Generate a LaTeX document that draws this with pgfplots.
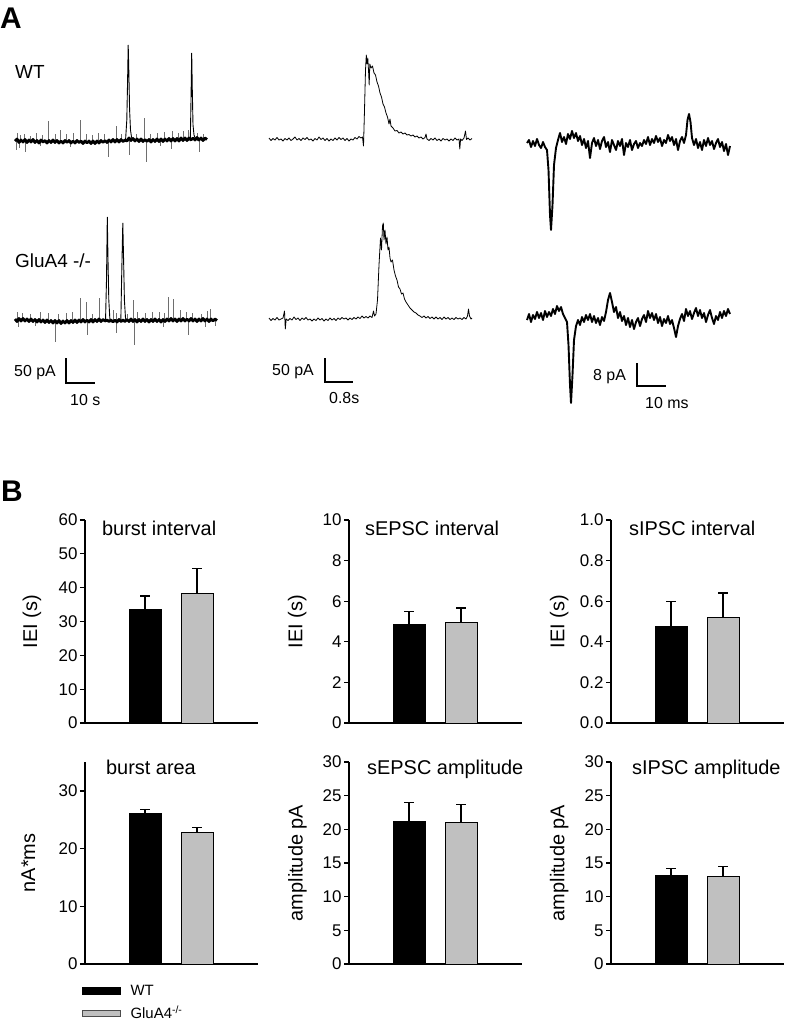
\documentclass[border=0pt]{standalone}
\usepackage{fontspec}
\setmainfont{Liberation Sans}
\usepackage{pgfplots}
\pgfplotsset{compat=1.18}
\definecolor{barGray}{RGB}{192,192,192}
\definecolor{spk}{RGB}{110,110,110}

\pgfplotsset{
  barax/.style={
    scale only axis, width=173bp,
    xmin=0, xmax=173, ymin=0,
    axis x line=bottom, axis y line=left,
    axis line style={-, line width=1.3bp, black},
    xtick=\empty,
    ytick pos=left, tick align=outside,
    major tick length=5bp,
    every tick/.style={black, line width=1.3bp},
    tick label style={font=\fontsize{17}{19}\selectfont},
    yticklabel style={xshift=1bp},
    /pgf/number format/assume math mode=true,
    ylabel style={font=\fontsize{20}{23}\selectfont, anchor=center},
    clip=false,
  },
  barcommon/.style={ybar, bar width=32, bar shift=0pt, line width=0.8bp,
    error bars/y dir=plus, error bars/y explicit,
    error bars/error bar style={line width=1.3bp, black},
    error bars/error mark options={rotate=90, mark size=5bp, line width=1.3bp, black}},
  wt/.style={fill=black, draw=black, barcommon},
  ko/.style={fill=barGray, draw=black, barcommon},
}
\tikzset{ttl/.style={anchor=base west, inner sep=0pt, font=\fontsize{20}{23}\selectfont}}

\begin{document}
\begin{tikzpicture}
\useasboundingbox (0,0) rectangle (785bp,-1026bp);

% ---------------- Panel A: traces (pixel coordinates, y downward) -------------
\begin{axis}[at={(0bp,-1026bp)}, anchor=south west, scale only axis,
  width=785bp, height=1026bp, xmin=0, xmax=785, ymin=0, ymax=1026,
  y dir=reverse, hide axis, clip=false, unbounded coords=jump]

% --- column 1, WT small events
\addplot[spk, line width=0.6bp] coordinates {
(17,141)(17,133)(nan,nan)(20,141)(20,135)(nan,nan)(24,141)(24,134)(nan,nan)(30,141)(30,136)(nan,nan)
(36,141)(36,133)(nan,nan)(42,141)(42,135)(nan,nan)(48,141)(48,121)(nan,nan)(55,141)(55,134)(nan,nan)
(60,141)(60,130)(nan,nan)(66,141)(66,134)(nan,nan)(73,141)(73,133)(nan,nan)(80,141)(80,120)(nan,nan)
(86,141)(86,134)(nan,nan)(92,141)(92,135)(nan,nan)(98,141)(98,133)(nan,nan)(104,141)(104,134)(nan,nan)
(116,141)(116,126)(nan,nan)(121,141)(121,134)(nan,nan)(136,141)(136,134)(nan,nan)(144,141)(144,118)(nan,nan)
(150,141)(150,134)(nan,nan)(157,141)(157,133)(nan,nan)(164,141)(164,132)(nan,nan)(172,141)(172,131)(nan,nan)
(178,141)(178,133)(nan,nan)(183,141)(183,131)(nan,nan)(188,141)(188,130)(nan,nan)(197,141)(197,133)(nan,nan)
(203,141)(203,134)(nan,nan)
(16,141)(16,150)(nan,nan)(19,141)(19,148)(nan,nan)(25,141)(25,152)(nan,nan)(40,141)(40,146)(nan,nan)
(70,141)(70,147)(nan,nan)(108,141)(108,157)(nan,nan)(129,141)(129,155)(nan,nan)(146,141)(146,162)(nan,nan)
(160,141)(160,146)(nan,nan)(171,141)(171,149)(nan,nan)(199,141)(199,152)};
% --- column 1, WT baseline
\addplot[black, line width=2.8bp, line join=round] coordinates {
(15,141)(17,139)(19,142.5)(21,140)(23,142)(25,139.5)(27,142.5)(29,140)(31,142)(33,139.5)
(35,142.5)(37,140.5)(39,143)(41,140)(43,142)(45,140.5)(47,143)(49,140.5)(51,142.5)(53,140)
(55,142.5)(57,140.5)(59,143)(61,141)(63,143)(65,140.5)(67,142.5)(69,140.5)(71,143)(73,141)
(75,143)(77,140.5)(79,142.5)(81,141)(83,143.5)(85,141)(87,143)(89,141)(91,143.5)(93,141)
(95,143.5)(97,141)(99,143)(101,140.5)(103,142.5)(105,140.5)(107,142.5)(109,140)(111,142)(113,139.5)
(115,142)(117,139.5)(119,142)(121,139.5)(123,141.5)(125,140)(127,141)(129,138)(131,140.5)(133,138.5)
(135,141)(137,139)(139,141.5)(141,139)(143,141.5)(145,139.5)(147,141.5)(149,139.5)(151,142)(153,139.5)
(155,141.5)(157,139)(159,141.5)(161,139)(163,141.5)(165,139)(167,141)(169,138.5)(171,141)(173,138.5)
(175,141)(177,138.5)(179,141)(181,138)(183,140.5)(185,138)(187,140.5)(189,138)(191,140)(193,138)
(195,140)(197,137.5)(199,140)(201,138)(203,140.5)(205,138)(207,139.5)};
% --- column 1, WT bursts
\addplot[black, line width=0.9bp] coordinates {
(125.5,141)(126.8,120)(127.6,80)(128.2,45)(128.8,70)(129.6,110)(130.5,130)(131.5,137)(133,140)
(nan,nan)
(190.3,141)(191,100)(191.7,53)(192.3,90)(193,125)(194,135)(195.5,139)};

% --- column 1, GluA4 small events
\addplot[spk, line width=0.6bp] coordinates {
(17,320)(17,312)(nan,nan)(22,320)(22,313)(nan,nan)(30,320)(30,314)(nan,nan)(40,320)(40,312)(nan,nan)
(48,320)(48,313)(nan,nan)(58,320)(58,314)(nan,nan)(66,320)(66,313)(nan,nan)(72,320)(72,312)(nan,nan)
(80,320)(80,298)(nan,nan)(86,320)(86,302)(nan,nan)(92,320)(92,314)(nan,nan)(99,320)(99,298)(nan,nan)
(113,320)(113,310)(nan,nan)(116,320)(116,313)(nan,nan)(127,320)(127,314)(nan,nan)(133,320)(133,300)(nan,nan)
(137,320)(137,312)(nan,nan)(145,320)(145,313)(nan,nan)(152,320)(152,312)(nan,nan)(159,320)(159,312)(nan,nan)
(164,320)(164,313)(nan,nan)(168,320)(168,297)(nan,nan)(173,320)(173,299)(nan,nan)(180,320)(180,310)(nan,nan)
(186,320)(186,312)(nan,nan)(192,320)(192,313)(nan,nan)(201,320)(201,314)(nan,nan)(207,320)(207,311)(nan,nan)
(210,320)(210,309)(nan,nan)
(18,320)(18,327)(nan,nan)(35,320)(35,326)(nan,nan)(55,320)(55,342)(nan,nan)(87,320)(87,335)(nan,nan)
(116,320)(116,333)(nan,nan)(134,320)(134,345)(nan,nan)(163,320)(163,327)(nan,nan)(188,320)(188,335)(nan,nan)
(205,320)(205,327)(nan,nan)(215,320)(215,326)};
% --- column 1, GluA4 baseline
\addplot[black, line width=2.8bp, line join=round] coordinates {
(15,319)(17,321.5)(19,318.5)(21,321)(23,318.5)(25,321)(27,319)(29,321.5)(31,319)(33,321.5)
(35,319.5)(37,322)(39,319.5)(41,322)(43,320)(45,322.5)(47,320)(49,322.5)(51,320.5)(53,323)
(55,320.5)(57,323)(59,320.5)(61,323.5)(63,321)(65,323)(67,320.5)(69,323)(71,320.5)(73,322.5)
(75,320)(77,322.5)(79,320)(81,322)(83,319.5)(85,322)(87,320)(89,322)(91,319.5)(93,322)
(95,319.5)(97,321.5)(99,319)(101,321.5)(103,319.5)(105,321)(107,320)(109,321.5)(111,320)(113,322)
(115,320)(117,322)(119,319.5)(121,321.5)(123,320)(125,321.5)(127,319.5)(129,321.5)(131,319)(133,321.5)
(135,319.5)(137,322)(139,319.5)(141,321.5)(143,319)(145,321.5)(147,319.5)(149,322)(151,319.5)(153,321.5)
(155,319)(157,321.5)(159,319.5)(161,322)(163,319.5)(165,321.5)(167,319)(169,321)(171,318.5)(173,321)
(175,319)(177,321.5)(179,319)(181,321)(183,318.5)(185,321)(187,319)(189,321)(191,318.5)(193,321)
(195,319)(197,321.5)(199,319)(201,321)(203,318.5)(205,321)(207,319)(209,321.5)(211,319)(213,321)
(215,319)(217,320.5)};
\addplot[black, line width=0.9bp] coordinates {
(105.5,322)(106.5,280)(107.3,217)(108,260)(108.8,300)(109.8,318)(111,322)
(nan,nan)
(120.8,322)(121.8,270)(122.8,223)(123.6,260)(124.4,300)(125.5,318)(127,321)};

% --- column 2, WT
\addplot[black, line width=0.8bp, line join=round] coordinates {
(269,138)(271,140.5)(273,138.5)(275,140)(277,137.5)(279,140)(281,139)(283,141)(285,138.5)(287,140)
(289,138)(291,140.5)(293,139)(295,137)(297,140)(299,138.5)(301,140.5)(303,138)(305,139.5)(307,137.5)
(309,140)(311,139)(313,141)(315,138.5)(317,140)(319,137)(321,139.5)(323,138)(325,140.5)(327,138.5)
(329,141)(331,139)(333,140.5)(335,138)(337,140)(339,137.5)(341,139.5)(343,138)(345,140.5)(347,138.5)
(349,141)(351,139)(353,140)(355,137.5)(357,139)(359,136.5)(361,138)(362.5,137)(363.5,146)(364.5,110)
(365.5,70)(366.3,55)(367,64)(367.8,58)(368.6,72)(369.2,85)(369.8,64)(371,68)(372.5,66)(374,73)
(375.5,75)(377,82)(378.5,86)(380,93)(381.5,97)(383,104)(384.5,107)(386,113)(387.5,117)(389,124)
(390,119)(391,126)(393,128)(395,131)(397,130.5)(399,133)(401,132)(403,134)(405,133)(407,135)
(409,134.5)(411,136)(413,135)(415,137)(417,136)(419,138)(421,137)(423,139)(425,137.5)(426,134)
(427,139)(429,140.5)(431,138.5)(433,140)(435,138)(437,140.5)(439,139)(441,141)(443,138.5)(445,140)
(447,139)(449,141)(451,139)(453,140.5)(455,138)(457,140)(459,139)(459.8,149)(460.6,139)(462,140.5)
(464,138)(465.5,131)(466.5,139.5)(468,138)(470,140)(472,138.5)};
% --- column 2, GluA4
\addplot[black, line width=0.8bp, line join=round] coordinates {
(269,318)(271,320.5)(273,318.5)(275,320)(277,317.5)(279,320)(281,319)(283,318)(284.5,311)(285.3,329)
(286.2,319)(288,320.5)(290,318.5)(292,320)(294,317)(296,319.5)(298,318)(300,320.5)(302,318)(304,319.5)
(306,317.5)(308,320)(310,319)(312,321)(314,319)(316,320.5)(318,318)(320,320)(322,318.5)(324,321)
(326,319)(328,320.5)(330,318)(332,320)(334,318.5)(336,320.5)(338,318)(340,319.5)(342,317.5)(344,319)
(346,318)(348,320)(350,318)(352,319.5)(354,317.5)(356,319)(358,317)(360,318.5)(362,316)(364,318)
(366,316.5)(368,318)(370,316)(372,317.5)(373.5,311)(374.5,316)(376,314)(377.5,300)(379,265)(380.5,238)
(381.5,250)(382.5,226)(383.3,223)(384,240)(385,230)(386,244)(387,237)(388,250)(389,247)(390,258)
(391,262)(392.5,260)(394,270)(395.5,276)(397,280)(398.5,287)(400,289)(401.5,294)(403,293)(404.5,299)
(406,302)(408,305)(410,308)(412,310)(414,312)(416,313)(418,315)(420,316)(422,317.5)(424,316)
(426,318)(428,316.5)(430,318.5)(432,317)(434,319)(436,317)(438,319)(440,317.5)(442,319.5)(444,317)
(446,319)(448,317.5)(450,319.5)(452,318)(454,319.5)(456,317.5)(458,319)(460,318)(462,319.5)(464,317.5)
(466,319)(467.5,316)(468.5,309)(469.5,316)(471,319)(472,318)};

% --- column 3, WT
\addplot[black, line width=1.9bp, line join=round] coordinates {
(527,143)(529,140)(531,147)(533,141)(535,146)(537,139)(539,145)(541,148)(543,142)(545,147)
(547,150)(548.5,170)(550,215)(551,230)(552.5,205)(554,165)(556,148)(558,140)(560,133)(562,142)
(564,137)(566,144)(568,134)(570,139)(572,131)(574,138)(576,133)(578,141)(580,136)(582,145)
(584,139)(586,148)(588,141)(590,158)(592,143)(594,138)(596,146)(598,140)(600,149)(602,141)
(604,137)(606,147)(608,142)(610,152)(612,140)(614,145)(616,150)(618,141)(620,146)(622,139)
(624,155)(626,143)(628,147)(630,140)(632,150)(634,144)(636,141)(638,148)(640,143)(642,146)
(644,140)(646,144)(648,137)(650,145)(652,139)(654,143)(656,136)(658,142)(660,138)(662,146)
(664,140)(666,143)(668,135)(670,141)(672,137)(674,145)(676,139)(678,150)(680,141)(682,137)
(684,143)(686,135)(687.5,120)(689,114)(690.5,122)(692,138)(694,145)(696,139)(698,148)(700,142)
(702,150)(704,140)(706,146)(708,138)(710,145)(712,141)(714,149)(716,143)(718,139)(720,147)
(722,142)(724,151)(726,144)(728,155)(730,146)};
% --- column 3, GluA4
\addplot[black, line width=1.9bp, line join=round] coordinates {
(527,320)(529,314)(531,322)(533,315)(535,319)(537,312)(539,318)(541,313)(543,320)(545,311)
(547,317)(549,312)(551,316)(553,309)(555,314)(557,306)(559,311)(561,307)(563,314)(565,318)
(567,322)(568.5,345)(570,385)(571,403)(572.5,375)(574,340)(576,326)(578,320)(580,325)(582,317)
(584,322)(586,315)(588,320)(590,314)(592,322)(594,316)(596,323)(598,318)(600,325)(602,317)
(604,321)(606,312)(608,300)(610,293)(612,302)(614,312)(616,307)(618,318)(620,312)(622,321)
(624,316)(626,325)(628,318)(630,327)(632,320)(634,329)(636,322)(638,318)(640,326)(642,319)
(644,315)(646,322)(648,311)(650,318)(652,313)(654,320)(656,314)(658,323)(660,317)(662,326)
(664,319)(666,323)(668,316)(670,324)(672,320)(674,328)(676,337)(678,326)(680,319)(682,314)
(684,321)(686,309)(688,316)(690,311)(692,319)(694,313)(696,308)(698,316)(700,310)(702,318)
(704,313)(706,322)(708,315)(710,310)(712,318)(714,324)(716,316)(718,320)(720,312)(722,318)
(724,311)(726,316)(728,309)(730,314)};

% --- scale bars
\addplot[black, line width=1.6bp] coordinates {(66,358)(66,383)(95,383)};
\addplot[black, line width=1.6bp] coordinates {(325,358)(325,382)(353,382)};
\addplot[black, line width=1.6bp] coordinates {(637,363)(637,386)(666,386)};

% --- panel A text
\node[anchor=base west, inner sep=0pt, font=\fontsize{30}{32}\selectfont\bfseries] at (axis cs:0,28) {A};
\node[anchor=base west, inner sep=0pt, font=\fontsize{30}{32}\selectfont\bfseries] at (axis cs:1,501) {B};
\node[anchor=base west, inner sep=0pt, font=\fontsize{19}{22}\selectfont] at (axis cs:15,78) {WT};
\node[anchor=base west, inner sep=0pt, font=\fontsize{19}{22}\selectfont] at (axis cs:15,267) {GluA4 -/-};
\node[anchor=base west, inner sep=0pt, font=\fontsize{16}{18}\selectfont] at (axis cs:14,376) {50 pA};
\node[anchor=base west, inner sep=0pt, font=\fontsize{16}{18}\selectfont] at (axis cs:70,405) {10 s};
\node[anchor=base west, inner sep=0pt, font=\fontsize{16}{18}\selectfont] at (axis cs:272,375) {50 pA};
\node[anchor=base west, inner sep=0pt, font=\fontsize{16}{18}\selectfont] at (axis cs:329,403) {0.8s};
\node[anchor=base west, inner sep=0pt, font=\fontsize{16}{18}\selectfont] at (axis cs:593,380) {8 pA};
\node[anchor=base west, inner sep=0pt, font=\fontsize{16}{18}\selectfont] at (axis cs:645,408) {10 ms};
\end{axis}

% ---------------- Panel B: bar charts ----------------
% burst interval
\begin{axis}[barax, at={(85bp,-723bp)}, anchor=south west, height=203bp,
  ymax=60, ytick={0,10,...,60}, ylabel={IEI (s)},
  ylabel style={at={(rel axis cs:-0.306,0.5)}}]
\addplot[wt] coordinates {(60,33.5) +- (0,4.0)};
\addplot[ko] coordinates {(112,38.3) +- (0,7.4)};
\node[ttl] at (rel axis cs:0.098,0.926) {burst interval};
\end{axis}
% sEPSC interval
\begin{axis}[barax, at={(349bp,-723bp)}, anchor=south west, height=203bp,
  ymax=10, ytick={0,2,...,10}, ylabel={IEI (s)},
  ylabel style={at={(rel axis cs:-0.30,0.5)}}]
\addplot[wt] coordinates {(60,4.87) +- (0,0.62)};
\addplot[ko] coordinates {(112,4.95) +- (0,0.72)};
\node[ttl] at (rel axis cs:0.092,0.926) {sEPSC interval};
\end{axis}
% sIPSC interval
\begin{axis}[barax, at={(611bp,-723bp)}, anchor=south west, height=203bp,
  ymax=1, ytick={0,0.2,...,1.0}, ylabel={IEI (s)},
  yticklabel style={/pgf/number format/.cd, fixed, fixed zerofill, precision=1},
  ylabel style={at={(rel axis cs:-0.30,0.5)}}]
\addplot[wt] coordinates {(60,0.475) +- (0,0.125)};
\addplot[ko] coordinates {(112,0.522) +- (0,0.118)};
\node[ttl] at (rel axis cs:0.104,0.926) {sIPSC interval};
\end{axis}
% burst area
\begin{axis}[barax, at={(85bp,-964bp)}, anchor=south west, height=202bp,
  ymax=35, ytick={0,10,20,30}, ylabel={nA*ms},
  ylabel style={at={(rel axis cs:-0.327,0.5)}},
  legend style={at={(rel axis cs:-0.02,-0.095)}, anchor=north west, draw=none, fill=none,
    font=\fontsize{15}{17}\selectfont, inner sep=0pt, row sep=5bp, column sep=8bp},
  legend cell align=left]
\addplot[wt, legend image code/.code={\draw[fill=black, draw=black, line width=0.8bp] (0bp,-3.5bp) rectangle (38bp,3.5bp);}] coordinates {(60,26.1) +- (0,0.7)};
\addlegendentry{WT}
\addplot[ko, legend image code/.code={\draw[fill=barGray, draw=black!70, line width=0.8bp] (0bp,-3bp) rectangle (38bp,3bp);}] coordinates {(112,22.8) +- (0,0.8)};
\addlegendentry{GluA4\textsuperscript{-/-}}
\node[ttl] at (rel axis cs:0.121,0.936) {burst area};
\end{axis}
% sEPSC amplitude
\begin{axis}[barax, at={(349bp,-964bp)}, anchor=south west, height=202bp,
  ymax=30, ytick={0,5,...,30}, ylabel={amplitude pA},
  ylabel style={at={(rel axis cs:-0.298,0.5)}}]
\addplot[wt] coordinates {(60,21.2) +- (0,2.8)};
\addplot[ko] coordinates {(112,21.1) +- (0,2.6)};
\node[ttl] at (rel axis cs:0.104,0.936) {sEPSC amplitude};
\end{axis}
% sIPSC amplitude
\begin{axis}[barax, at={(611bp,-964bp)}, anchor=south west, height=202bp,
  ymax=30, ytick={0,5,...,30}, ylabel={amplitude pA},
  ylabel style={at={(rel axis cs:-0.30,0.5)}}]
\addplot[wt] coordinates {(60,13.1) +- (0,1.1)};
\addplot[ko] coordinates {(112,13.0) +- (0,1.5)};
\node[ttl] at (rel axis cs:0.121,0.936) {sIPSC amplitude};
\end{axis}
\end{tikzpicture}
\end{document}
